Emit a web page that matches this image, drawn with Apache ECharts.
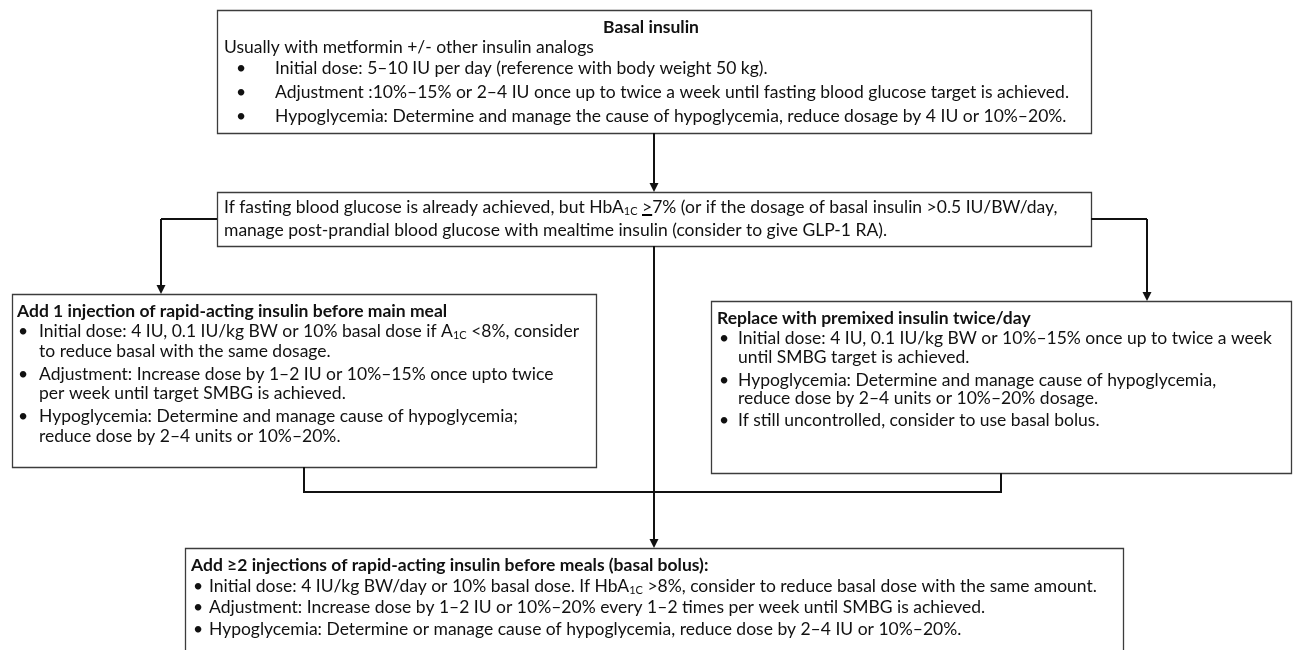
<!DOCTYPE html>
<html>
<head>
<meta charset="utf-8">
<script src="https://cdn.jsdelivr.net/npm/echarts@6/dist/echarts.min.js"></script>
<style>html,body{margin:0;padding:0;background:#fff}#c{width:1295px;height:650px}</style>
</head>
<body>
<div id="c"></div>
<script>
// ---------- content (text data) ----------
const basalTitle = 'Basal insulin';
const basalIntro = 'Usually with metformin +/- other insulin analogs';
const basalBullets = [
  'Initial dose: 5–10 IU per day (reference with body weight 50 kg).',
  'Adjustment :10%–15% or 2–4 IU once up to twice a week until fasting blood glucose target is achieved.',
  'Hypoglycemia: Determine and manage the cause of hypoglycemia, reduce dosage by 4 IU or 10%–20%.'
];
const decisionLines = [
  'If fasting blood glucose is already achieved, but HbA{sub|1C} {ul|>}7% (or if the dosage of basal insulin >0.5 IU/BW/day,',
  'manage post-prandial blood glucose with mealtime insulin (consider to give GLP-1 RA).'
];
const mealTitle = 'Add 1 injection of rapid-acting insulin before main meal';
const mealBullets = [
  ['Initial dose: 4 IU, 0.1 IU/kg BW or 10% basal dose if A{sub|1C} <8%, consider', 'to reduce basal with the same dosage.'],
  ['Adjustment: Increase dose by 1–2 IU or 10%–15% once upto twice', 'per week until target SMBG is achieved.'],
  ['Hypoglycemia: Determine and manage cause of hypoglycemia;', 'reduce dose by 2–4 units or 10%–20%.']
];
const premixTitle = 'Replace with premixed insulin twice/day';
const premixBullets = [
  ['Initial dose: 4 IU, 0.1 IU/kg BW or 10%–15% once up to twice a week', 'until SMBG target is achieved.'],
  ['Hypoglycemia: Determine and manage cause of hypoglycemia,', 'reduce dose by 2–4 units or 10%–20% dosage.'],
  ['If still uncontrolled, consider to use basal bolus.']
];
const bolusTitle = 'Add ≥2 injections of rapid-acting insulin before meals (basal bolus):';
const bolusBullets = [
  ['Initial dose: 4 IU/kg BW/day or 10% basal dose. If HbA{sub|1C} >8%, consider to reduce basal dose with the same amount.'],
  ['Adjustment: Increase dose by 1–2 IU or 10%–20% every 1–2 times per week until SMBG is achieved.'],
  ['Hypoglycemia: Determine or manage cause of hypoglycemia, reduce dose by 2–4 IU or 10%–20%.']
];

// ---------- styling / layout ----------
const FONT = 'Lato, "Open Sans", sans-serif';
const INK = '#111';
const BORDER = '#3c3c3c';

function measure(t, size, bold) {
  const ctx = document.createElement('canvas').getContext('2d');
  ctx.font = (bold ? 'bold ' : '') + size + 'px Lato';
  return ctx.measureText(t.replace(/\{sub\|([^}]*)\}/g, '$1').replace(/\{ul\|([^}]*)\}/g, '$1')).width;
}
// font size chosen so that a few reference lines get the widths they have in the picture
const fitLines = [basalBullets[1], mealBullets[0][0], premixBullets[0][0], mealBullets[2][1]];
const fitTarget = 807 + 537 + 535 + 300;
const FS = Math.round(18 * fitTarget / fitLines.reduce(function (s, t) { return s + measure(t, 18); }, 0) * 10) / 10;
const LH = 20;

const ulGrad = new echarts.graphic.LinearGradient(0, 0, 0, 1, [
  {offset: 0, color: 'rgba(0,0,0,0)'}, {offset: 0.9, color: 'rgba(0,0,0,0)'},
  {offset: 0.9, color: '#000'}, {offset: 0.98, color: '#000'},
  {offset: 0.98, color: 'rgba(0,0,0,0)'}, {offset: 1, color: 'rgba(0,0,0,0)'}
]);
const RICH = {
  sub: {fontFamily: FONT, fontSize: Math.round(FS * 0.64), lineHeight: Math.round(FS * 0.8), verticalAlign: 'bottom', fill: INK},
  ul: {fontFamily: FONT, fontSize: FS, lineHeight: FS, backgroundColor: ulGrad, fill: INK}
};

const els = [];
function rect(b) {
  els.push({type: 'rect', z: 1, shape: {x: b.x + 0.5, y: b.y + 0.5, width: b.w, height: b.h},
    style: {fill: '#fff', stroke: BORDER, lineWidth: 1.3}});
}
function text(s, x, y, opt) {
  els.push({type: 'text', z: 3, style: Object.assign({
    text: s, x: x, y: y, fontFamily: FONT, fontSize: FS, fill: INK,
    align: 'left', verticalAlign: 'middle', textAlign: 'left', textVerticalAlign: 'middle',
    lineHeight: LH, rich: RICH
  }, opt || {})});
}
function line(points) {
  els.push({type: 'polyline', z: 2, shape: {points: points},
    style: {stroke: INK, lineWidth: 2, fill: null}});
}
function arrowDown(x, y0, y1) {
  line([[x, y0], [x, y1 - 7]]);
  els.push({type: 'polygon', z: 2, shape: {points: [[x - 4.5, y1 - 9], [x + 4.5, y1 - 9], [x, y1]]},
    style: {fill: INK}});
}
function bulletBox(b, title, items, ys) {
  rect(b);
  text(title, b.x + b.tx, ys[0], {fontWeight: 'bold'});
  let k = 1;
  items.forEach(function (item) {
    text('•', b.x + b.bx, ys[k]);
    item.forEach(function (ln) { text(ln, b.x + b.lx, ys[k]); k++; });
  });
}

// top box
const TOP = {x: 217, y: 10, w: 874, h: 123};
rect(TOP);
text(basalTitle, TOP.x + TOP.w / 2 - 3, 27, {fontWeight: 'bold', align: 'center', textAlign: 'center'});
text(basalIntro, TOP.x + 7, 47);
[68, 92, 116].forEach(function (y, i) {
  text('•', TOP.x + 19, y);
  text(basalBullets[i], TOP.x + 58, y);
});

// decision box
const DEC = {x: 217, y: 192, w: 874, h: 54};
rect(DEC);
text(decisionLines[0], DEC.x + 7, 207);
text(decisionLines[1], DEC.x + 7, 230);
const decMidY = DEC.y + DEC.h / 2;

// left / right / bottom boxes
const LB = {x: 12, y: 294, w: 584, h: 173, tx: 5, bx: 6, lx: 27};
bulletBox(LB, mealTitle, mealBullets, [311, 331, 351, 374, 393, 416, 436]);
const RB = {x: 711, y: 301, w: 580, h: 172, tx: 6, bx: 8, lx: 27};
bulletBox(RB, premixTitle, premixBullets, [318, 338, 357, 380, 398, 420]);
const BB = {x: 185, y: 548, w: 938, h: 130, tx: 6, bx: 8, lx: 24};
bulletBox(BB, bolusTitle, bolusBullets, [565, 586, 607, 629]);

// connectors
const midX = TOP.x + TOP.w / 2;
arrowDown(midX, TOP.y + TOP.h, DEC.y);
line([[DEC.x, decMidY], [161, decMidY]]);
arrowDown(161, decMidY, LB.y);
line([[DEC.x + DEC.w, decMidY], [1147, decMidY]]);
arrowDown(1147, decMidY, RB.y);
arrowDown(midX, DEC.y + DEC.h, BB.y);
const lbc = LB.x + LB.w / 2, rbc = RB.x + RB.w / 2;
line([[lbc, LB.y + LB.h], [lbc, 492], [rbc, 492], [rbc, RB.y + RB.h]]);

const chart = echarts.init(document.getElementById('c'), null, {renderer: 'canvas'});
chart.setOption({backgroundColor: '#fff', animation: false, graphic: {elements: els}});
</script>
</body>
</html>
